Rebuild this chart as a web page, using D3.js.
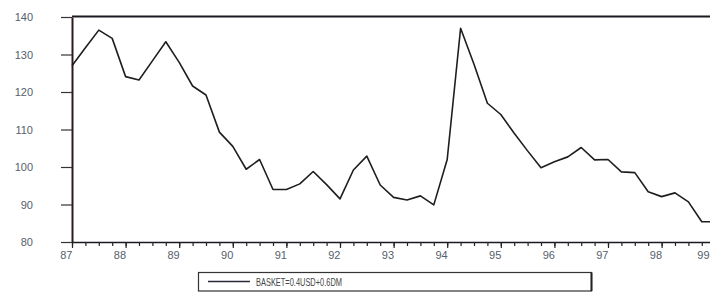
<!DOCTYPE html>
<html>
<head>
<meta charset="utf-8">
<script src="https://cdn.jsdelivr.net/npm/d3@7"></script>
<style>
  body { margin: 0; background: #fff; }
  svg { display: block; font-family: "Liberation Sans", Arial, sans-serif; }
</style>
</head>
<body>
<div id="chart"></div>
<script>
// quarterly index, 87Q1 .. 99Q1
var quarters = d3.range(49).map(function(i) {
    return String(87 + Math.floor(i / 4)) + "Q" + (i % 4 + 1);
});

// basket index values
var basket = [
    127.0, 131.8, 136.5, 134.3, 124.1, 123.2, 128.3, 133.4,
    127.9, 121.6, 119.2, 109.3, 105.5, 99.4, 102.0, 94.0,
    94.0, 95.5, 98.8, 95.3, 91.5, 99.2, 102.9, 95.2,
    91.9, 91.2, 92.3, 89.9, 102.0, 137.0, 127.4, 117.0,
    114.0, 109.0, 104.3, 99.8, 101.4, 102.7, 105.2, 101.9,
    102.0, 98.7, 98.5, 93.4, 92.1, 93.1, 90.7, 85.4,
    85.4
];

var yearLabels = ["87", "88", "89", "90", "91", "92", "93", "94", "95", "96", "97", "98", "99"];
var yTicks = [80, 90, 100, 110, 120, 130, 140];
var legendLabel = "BASKET=0.4USD+0.6DM";

// size for svg element
var svgWidth = 710;
var svgHeight = 295;

// plot box, right edge runs past the window like the scan
var margin = { top: 17, left: 72, bottom: 53 };
var plotRight = 715.2;
var plotBottom = svgHeight - margin.bottom;

var svg = d3.select("#chart")
    .append("svg")
    .attr("width", svgWidth)
    .attr("height", svgHeight);

// scales: x in quarters since 87Q1
var xScale = d3.scaleLinear()
    .domain([0, 48])
    .range([margin.left, plotRight]);

var yScale = d3.scaleLinear()
    .domain([80, 140])
    .range([plotBottom, margin.top]);

var labelColor = "#55606a";

// top border
svg.append("line")
    .attr("x1", margin.left).attr("x2", svgWidth)
    .attr("y1", yScale(140) - 0.5).attr("y2", yScale(140) - 0.5)
    .attr("stroke", "#1a1a22")
    .attr("stroke-width", 2);

// minor (quarterly) ticks
var minorAxis = d3.axisBottom(xScale)
    .tickValues(d3.range(0, 49))
    .tickSize(4)
    .tickSizeOuter(0)
    .tickFormat("");

svg.append("g")
    .attr("transform", "translate(0," + plotBottom + ")")
    .call(minorAxis)
    .call(function(g) {
        g.select(".domain").attr("stroke", "#1a1a22").attr("stroke-width", 1.6);
        g.selectAll(".tick line").attr("stroke", "#222").attr("stroke-width", 1.2);
    });

// yearly ticks with labels
var majorAxis = d3.axisBottom(xScale)
    .tickValues(yearLabels.map(function(d, i) { return i * 4; }))
    .tickSize(6)
    .tickSizeOuter(0)
    .tickPadding(3)
    .tickFormat(function(d) { return yearLabels[d / 4]; });

svg.append("g")
    .attr("transform", "translate(0," + plotBottom + ")")
    .call(majorAxis)
    .call(function(g) {
        g.select(".domain").remove();
        g.selectAll(".tick line").attr("stroke", "#222").attr("stroke-width", 1.2);
        g.selectAll(".tick text")
            .attr("text-anchor", "end")
            .attr("dx", function(d) {
                // keep the last label inside the window
                var over = xScale(d) - (svgWidth - 1);
                return over > 0 ? -over : 0;
            })
            .attr("font-size", 11)
            .attr("fill", labelColor);
    });

// y axis
var leftAxis = d3.axisLeft(yScale)
    .tickValues(yTicks)
    .tickSize(11)
    .tickSizeOuter(0)
    .tickPadding(28);

svg.append("g")
    .attr("transform", "translate(" + margin.left + ",0)")
    .call(leftAxis)
    .call(function(g) {
        g.select(".domain").attr("stroke", "#2a1a1e").attr("stroke-width", 2);
        g.selectAll(".tick line").attr("stroke", "#333").attr("stroke-width", 1.2);
        g.selectAll(".tick text")
            .attr("font-size", 11)
            .attr("fill", labelColor);
    });

// the series line
var line = d3.line()
    .x(function(d, i) { return xScale(i); })
    .y(function(d) { return yScale(d); });

svg.append("path")
    .datum(basket)
    .attr("fill", "none")
    .attr("stroke", "#1e1e1e")
    .attr("stroke-width", 1.6)
    .attr("stroke-linejoin", "round")
    .attr("d", line);

// legend box
var legend = svg.append("g").attr("transform", "translate(198,272)");

legend.append("rect")
    .attr("x", 0.5).attr("y", 0.5)
    .attr("width", 393).attr("height", 18.5)
    .attr("fill", "#fff")
    .attr("stroke", "#333")
    .attr("stroke-width", 1.2);

legend.append("line")
    .attr("x1", 393.5).attr("x2", 393.5)
    .attr("y1", 0.5).attr("y2", 19)
    .attr("stroke", "#222")
    .attr("stroke-width", 2);

legend.append("line")
    .attr("x1", 10).attr("x2", 52)
    .attr("y1", 9.5).attr("y2", 9.5)
    .attr("stroke", "#2a2a3a")
    .attr("stroke-width", 1.3);

legend.append("text")
    .attr("x", 58)
    .attr("y", 13.5)
    .attr("font-size", 10.5)
    .attr("fill", "#444")
    .attr("textLength", 86)
    .attr("lengthAdjust", "spacingAndGlyphs")
    .text(legendLabel);
</script>
</body>
</html>
